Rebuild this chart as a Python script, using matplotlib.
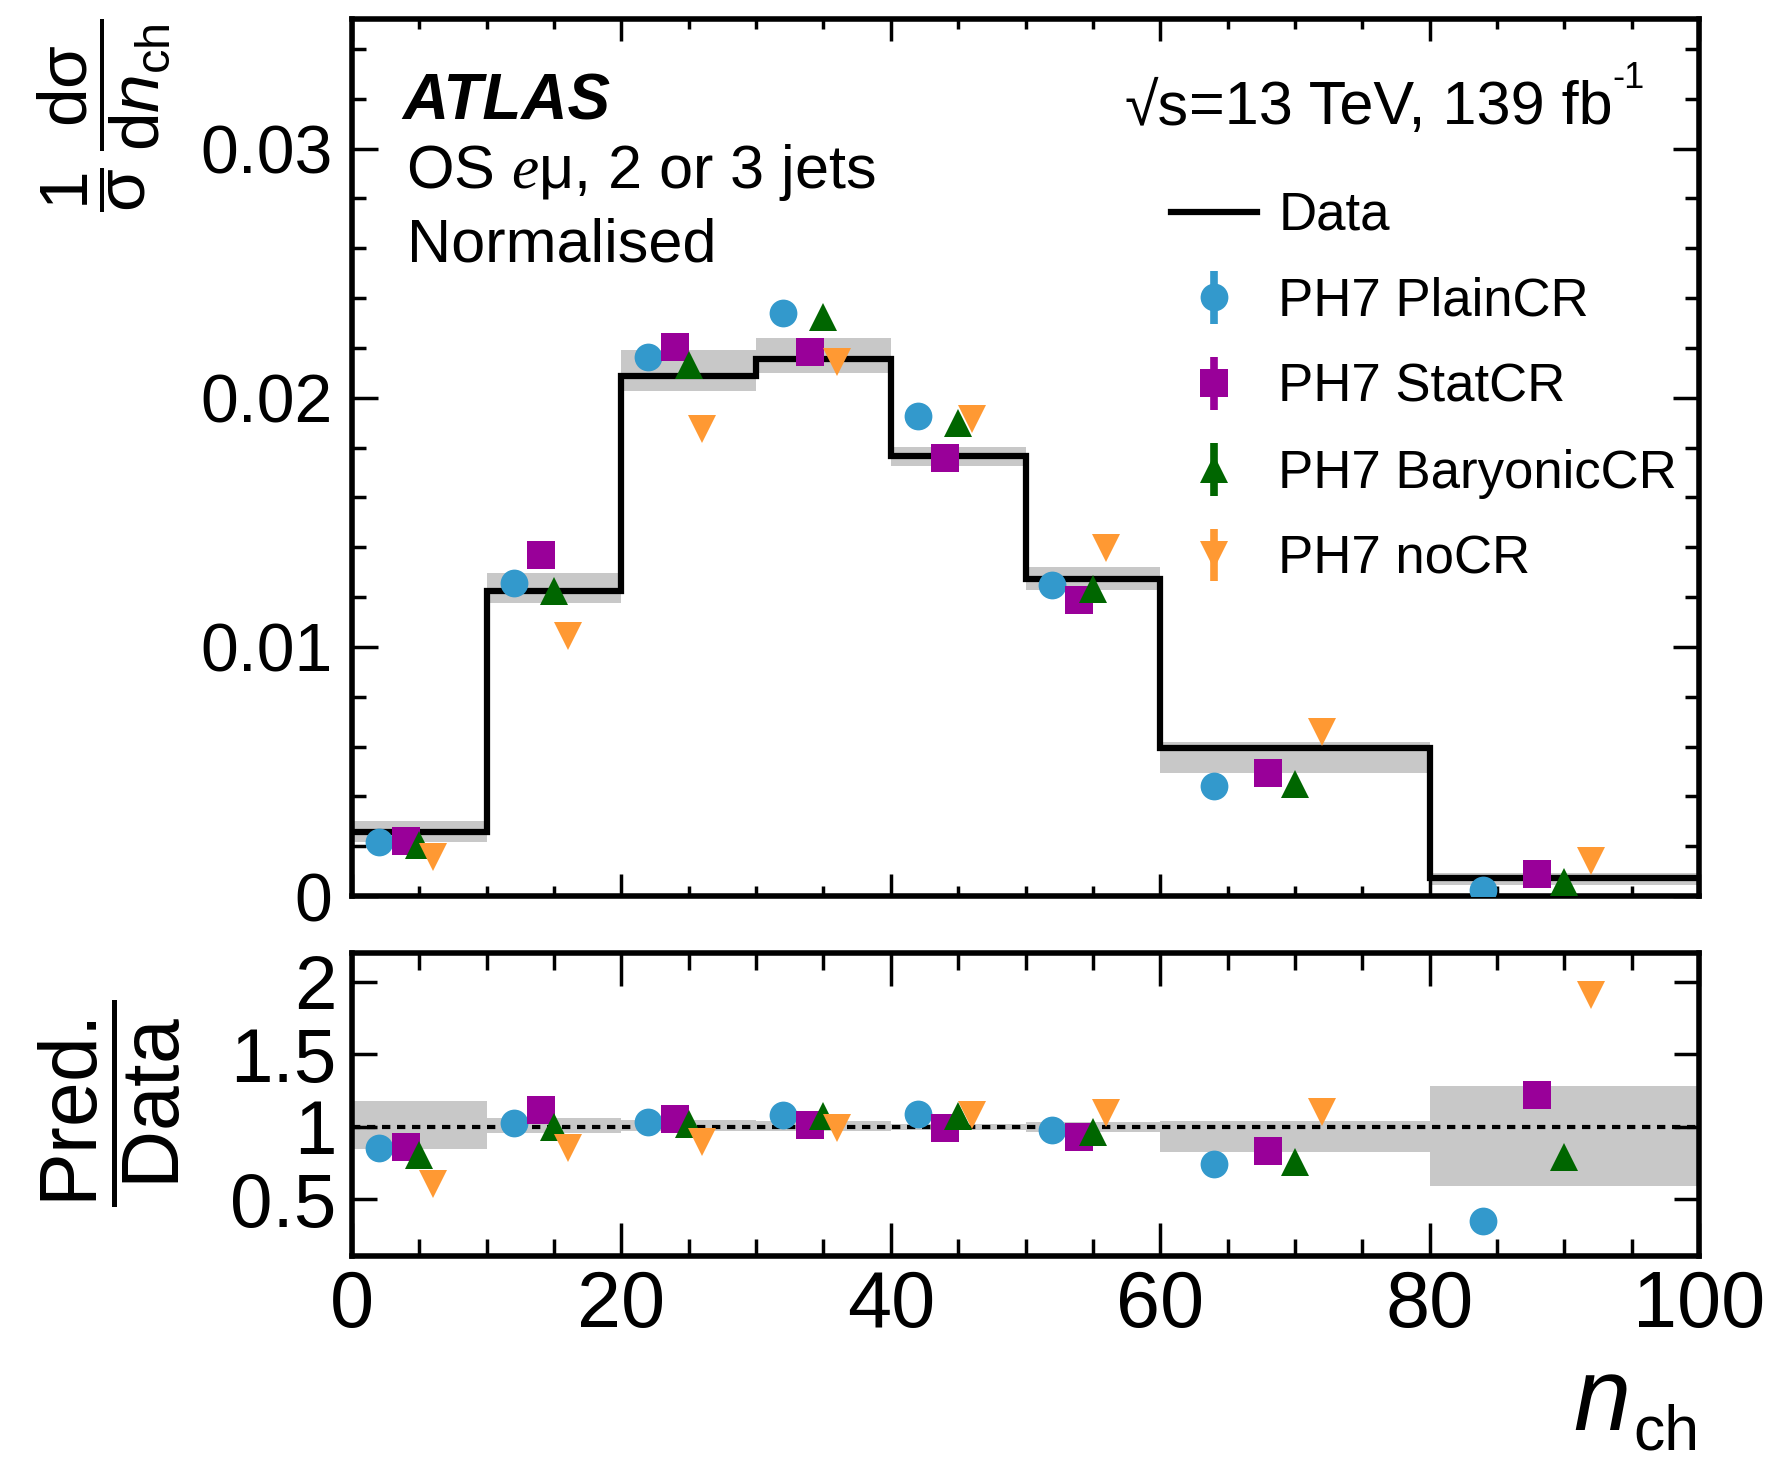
import numpy as np
import matplotlib
matplotlib.use("Agg")
import matplotlib.pyplot as plt
from matplotlib.ticker import MultipleLocator

# n_ch bins and measured normalised cross-section
edges = [0, 10, 20, 30, 40, 50, 60, 80, 100]
data = [0.00255, 0.01224, 0.02088, 0.02154, 0.01766, 0.01274, 0.00595, 0.00073]
# relative total uncertainty on data (up, down)
unc_up = [0.18, 0.06, 0.05, 0.04, 0.02, 0.035, 0.04, 0.285]
unc_dn = [0.15, 0.04, 0.03, 0.025, 0.023, 0.035, 0.17, 0.41]

# Pred./Data ratios
ratio_plain = [0.852, 1.025, 1.037, 1.086, 1.090, 0.979, 0.743, 0.35]
ratio_stat = [0.863, 1.118, 1.055, 1.014, 0.995, 0.933, 0.833, 1.222]
ratio_bary = [0.805, 1.000, 1.020, 1.079, 1.076, 0.968, 0.757, 0.79]
ratio_nocr = [0.610, 0.853, 0.898, 0.995, 1.083, 1.097, 1.106, 1.912]

labels = ["PH7 PlainCR", "PH7 StatCR", "PH7 BaryonicCR", "PH7 noCR"]
main_yticks = [0, 0.01, 0.02, 0.03]
main_yticklabels = ["0", "0.01", "0.02", "0.03"]
ratio_yticks = [0.5, 1, 1.5, 2]
ratio_yticklabels = ["0.5", "1", "1.5", "2"]
xticks = [0, 20, 40, 60, 80, 100]

# styling
colors = ["#3399cc", "#990099", "#006600", "#ff9933"]
markers = ["o", "s", "^", "v"]
offsets = [0.2, 0.4, 0.5, 0.6]   # marker position inside each bin
band_col = "#c8c8c8"

plt.rcParams["font.family"] = ["Liberation Sans", "DejaVu Sans"]
plt.rcParams["mathtext.fontset"] = "custom"
plt.rcParams["mathtext.rm"] = "Liberation Sans"
plt.rcParams["mathtext.it"] = "Liberation Sans:italic"
plt.rcParams["mathtext.bf"] = "Liberation Sans:bold"
plt.rcParams["mathtext.sf"] = "Liberation Serif:italic"

W, H = 1772, 1464
fig = plt.figure(figsize=(W / 100, H / 100), dpi=100)


def px(x, y):
    return x / W, 1 - y / H


ax = fig.add_axes([352 / W, 1 - 896 / H, 1347 / W, 877 / H])
rax = fig.add_axes([352 / W, 1 - 1256 / H, 1347 / W, 303 / H])

edges = np.array(edges, dtype=float)
lo = edges[:-1]
wid = np.diff(edges)
data = np.array(data)
up = np.array(unc_up)
dn = np.array(unc_dn)

# uncertainty bands
ax.bar(lo, data * (up + dn), bottom=data * (1 - dn), width=wid, align="edge",
       color=band_col, lw=0, zorder=1)
rax.bar(lo, up + dn, bottom=1 - dn, width=wid, align="edge",
        color=band_col, lw=0, zorder=1)

ax.stairs(data, edges, baseline=None, color="k", lw=4.5, zorder=2)
rax.axhline(1, color="k", lw=3, dashes=(2, 1.6), zorder=2)

handles = []
data_handle, = ax.plot([], [], color="k", lw=4.5)
handles.append(data_handle)
for ratio, col, mk, off in zip([ratio_plain, ratio_stat, ratio_bary, ratio_nocr],
                               colors, markers, offsets):
    ratio = np.array(ratio)
    x = lo + off * wid
    h = ax.errorbar(x, ratio * data, yerr=np.zeros_like(ratio), fmt=mk, color=col,
                    ms=20, mew=0, elinewidth=5.5, capsize=0, zorder=3)
    rax.errorbar(x, ratio, yerr=np.zeros_like(ratio), fmt=mk, color=col,
                 ms=20, mew=0, elinewidth=5.5, capsize=0, zorder=3)
    handles.append(h)

# axes ranges and ticks
for a in (ax, rax):
    a.set_xlim(0, 100)
    a.set_xticks(xticks)
    a.xaxis.set_minor_locator(MultipleLocator(5))
    for s in a.spines.values():
        s.set_linewidth(4)
    a.tick_params(which="both", direction="in", top=True, right=True, width=2.5)

ax.set_ylim(0, 0.0352)
ax.set_yticks(main_yticks, labels=main_yticklabels)
ax.yaxis.set_minor_locator(MultipleLocator(0.002))
ax.tick_params(axis="y", which="major", length=19, labelsize=49, pad=14)
ax.tick_params(axis="y", which="minor", length=10)
ax.tick_params(axis="x", which="major", length=16)
ax.tick_params(axis="x", which="minor", length=7)
ax.tick_params(labelbottom=False)

rax.set_ylim(0.11, 2.2)
rax.set_yticks(ratio_yticks, labels=ratio_yticklabels)
rax.tick_params(axis="y", which="major", length=18, labelsize=55, pad=11)
rax.tick_params(axis="x", which="major", length=24, labelsize=57, pad=9)
rax.tick_params(axis="x", which="minor", length=12)

# labels
fig.text(*px(104, 18), r"$\dfrac{1}{\mathrm{σ}}\,\dfrac{\mathrm{dσ}}{\mathrm{d}n_{\mathrm{ch}}}$",
         rotation=90, ha="center", va="top", fontsize=50)
fig.text(*px(110, 1103), r"$\dfrac{\mathrm{Pred.}}{\mathrm{Data}}$",
         rotation=90, ha="center", va="center", fontsize=58)
fig.text(*px(1630, 1430), "n", style="italic", ha="right", va="baseline", fontsize=74)
fig.text(*px(1699, 1450), "ch", ha="right", va="baseline", fontsize=45)

fig.text(*px(402, 120), "ATLAS", weight="bold", style="italic", fontsize=46, va="baseline")
fig.text(*px(406, 188), r"OS $\mathsf{e}$μ, 2 or 3 jets", fontsize=44, va="baseline")
fig.text(*px(407, 262), "Normalised", fontsize=44, va="baseline")
fig.text(*px(1189, 124), "√s", fontsize=44, ha="right", va="baseline")
lumi = fig.text(*px(1189, 124), "=13 TeV, 139 fb", fontsize=44, va="baseline")
ax.annotate("-1", xy=(1, 0.72), xycoords=lumi, fontsize=26, ha="left", va="bottom")

ax.legend(handles, ["Data"] + labels, loc="upper left",
          bbox_to_anchor=px(1171, 191), bbox_transform=fig.transFigure,
          frameon=False, fontsize=38, handlelength=1.63, handletextpad=0.4,
          labelspacing=0.68, borderpad=0, borderaxespad=0)

fig.savefig("out.png", dpi=100)
